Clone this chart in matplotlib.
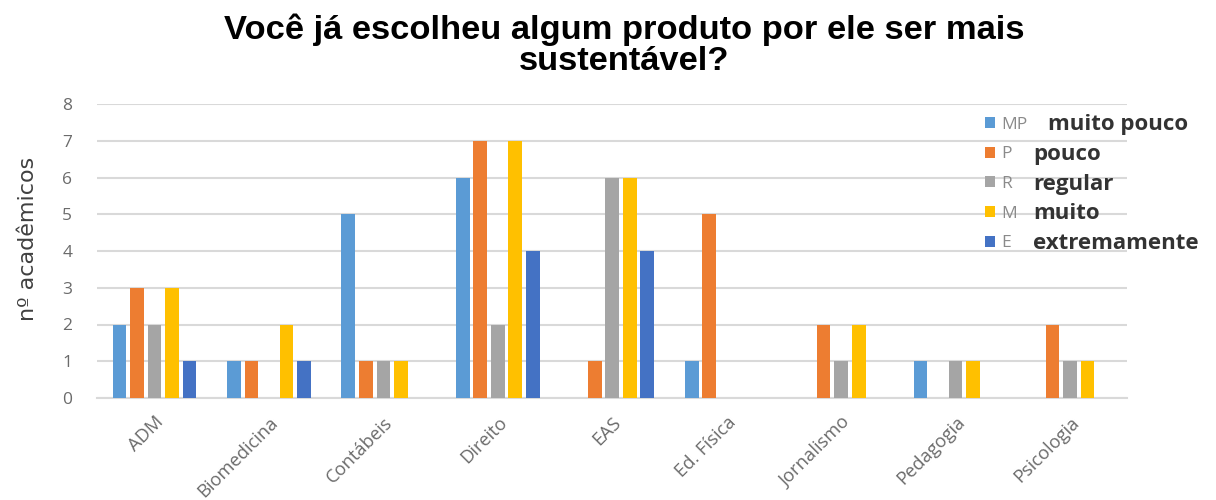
import matplotlib
matplotlib.use("Agg")
import matplotlib.pyplot as plt
import numpy as np

categories = ["ADM", "Biomedicina", "Contábeis", "Direito", "EAS",
              "Ed. Física", "Jornalismo", "Pedagogia", "Psicologia"]
mp = [2, 1, 5, 6, 0, 1, 0, 1, 0]
p = [3, 1, 1, 7, 1, 5, 2, 0, 2]
r = [2, 0, 1, 2, 6, 0, 1, 1, 1]
m = [3, 2, 1, 7, 6, 0, 2, 1, 1]
e = [1, 1, 0, 4, 4, 0, 0, 0, 0]
series = [mp, p, r, m, e]
prefixes = ["MP", "P", "R", "M", "E"]
descriptions = ["muito pouco", "pouco", "regular", "muito", "extremamente"]
colors = ["#5B9BD5", "#ED7D31", "#A5A5A5", "#FFC000", "#4472C4"]

fig = plt.figure(figsize=(12.16, 5.0), dpi=100)
ax = fig.add_axes([0.08, 0.204, 0.847, 0.588])

x = np.arange(len(categories))
slot = 0.153
bw = 0.12
handles = []
for i, (vals, c) in enumerate(zip(series, colors)):
    h = ax.bar(x + (i - 2) * slot, vals, width=bw, color=c, zorder=3)
    handles.append(h)

ax.set_xlim(-0.5, len(categories) - 0.5)
ax.set_ylim(0, 8)
ax.set_yticks(range(0, 9))
ax.yaxis.grid(True, color="#d9d9d9", linewidth=1.5, zorder=0)
ax.set_axisbelow(True)
for s in ["top", "right", "left"]:
    ax.spines[s].set_visible(False)
ax.spines["bottom"].set_color("#d9d9d9")
ax.spines["bottom"].set_linewidth(1.5)
ax.tick_params(axis="both", length=0, colors="#6b6b6b")
ax.tick_params(axis="y", labelsize=12.5, pad=18)
ax.tick_params(axis="x", pad=11)
ax.set_xticks(x)
ax.set_xticklabels(categories, rotation=45, ha="right", rotation_mode="anchor",
                   fontsize=13.2, family="Open Sans")
for t in ax.get_yticklabels():
    t.set_family("Open Sans")

ax.set_ylabel("nº acadêmicos", fontsize=16, family="DejaVu Sans",
              color="#404040")
ax.yaxis.set_label_coords(-0.058, 0.54)

fig.text(0.513, 0.972, "Você já escolheu algum produto por ele ser mais\nsustentável?",
         ha="center", va="top", fontsize=24.8, fontweight="bold", family="Liberation Sans",
         linespacing=1.0)

leg = fig.legend(handles, prefixes, loc="upper left", bbox_to_anchor=(0.797, 0.798),
                 frameon=False, handlelength=0.6, handleheight=0.6,
                 handletextpad=0.35, labelspacing=0.79, labelcolor="#8a8a8a",
                 prop={"family": "Open Sans", "size": 12.5})
fig.canvas.draw()
inv = fig.transFigure.inverted()
desc_x = [1048, 1033, 1033, 1033, 1033]
for t, d, dx in zip(leg.get_texts(), descriptions, desc_x):
    bb = t.get_window_extent()
    x0, y0 = inv.transform((dx, (bb.y0 + bb.y1) / 2))
    fig.text(x0, y0, d, ha="left", va="center", fontsize=16, fontweight="bold",
             family="Open Sans", color="#333333")

fig.savefig("out.png", dpi=100)
